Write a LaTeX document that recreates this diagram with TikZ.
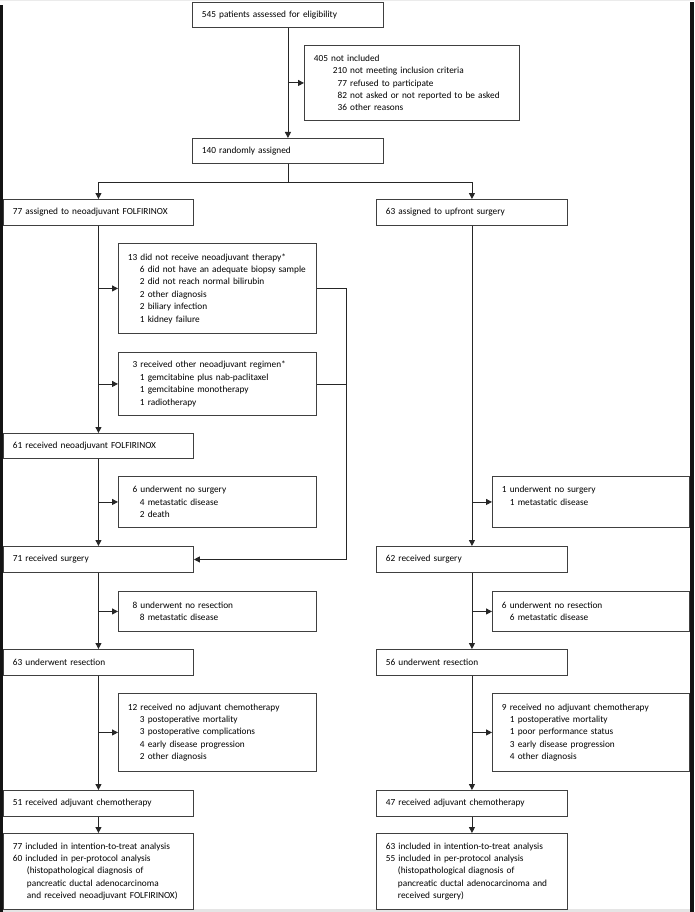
\documentclass[tikz,border=0pt]{standalone}
\usepackage{fontspec}
\setmainfont{Carlito}
\usetikzlibrary{arrows.meta,calc}
\newcommand\fs{\fontsize{9.3}{12.4}\selectfont}
\newcommand\ii[1]{\hspace*{#1pt}}
\begin{document}
\begin{tikzpicture}[x=1pt,y=-1pt,
  box/.style={draw=black!75, line width=0.9pt, anchor=north west, inner xsep=9.5pt, inner ysep=0pt, align=left, font=\fs},
  w190/.style={minimum width=190pt, text width=171pt},
  w198/.style={minimum width=198pt, text width=179pt},
  w215/.style={minimum width=215pt, text width=196pt},
  ln/.style={draw=black!85, line width=0.9pt},
  arr/.style={ln, -{Triangle[length=6pt,width=6pt]}}]
\useasboundingbox (0,0) rectangle (694,912);
\fill[white] (0,0) rectangle (694,912);
\fill[black!8] (0,0) rectangle (694,1);
\fill[black!10] (0,909) rectangle (694,912);
\fill[black!92] (0,5) rectangle (2.5,912);
\fill[black!92] (690,2) rectangle (694,912);

% top
\node[box, minimum width=191pt, text width=172pt, minimum height=25pt] (b545) at (192,2) {545 patients assessed for eligibility};
\node[box, w215, minimum height=75pt] (b405) at (304,45) {405 not included\\
\ii{19}210 not meeting inclusion criteria\\
\ii{19}\hphantom{0}77 refused to participate\\
\ii{19}\hphantom{0}82 not asked or not reported to be asked\\
\ii{19}\hphantom{0}36 other reasons};
\node[box, minimum width=191pt, text width=172pt, minimum height=25pt] (b140) at (192,138) {140 randomly assigned};

% left column
\node[box, w190, minimum height=26pt] (L77) at (3,199) {77 assigned to neoadjuvant FOLFIRINOX};
\node[box, w198, minimum height=90pt] (L13) at (118,243) {13 did not receive neoadjuvant therapy*\\
\ii{12}6 did not have an adequate biopsy sample\\
\ii{12}2 did not reach normal bilirubin\\
\ii{12}2 other diagnosis\\
\ii{12}2 biliary infection\\
\ii{12}1 kidney failure};
\node[box, w198, minimum height=63pt] (L3) at (118,352) {\hphantom{1}3 received other neoadjuvant regimen*\\
\ii{12}1 gemcitabine plus nab-paclitaxel\\
\ii{12}1 gemcitabine monotherapy\\
\ii{12}1 radiotherapy};
\node[box, w190, minimum height=25pt] (L61) at (3,433) {61 received neoadjuvant FOLFIRINOX};
\node[box, w198, minimum height=51pt] (L6) at (118,476) {\hphantom{1}6 underwent no surgery\\
\ii{12}4 metastatic disease\\
\ii{12}2 death};
\node[box, w190, minimum height=26pt] (L71) at (3,546) {71 received surgery};
\node[box, w198, minimum height=40pt] (L8) at (118,591) {\hphantom{1}8 underwent no resection\\
\ii{12}8 metastatic disease};
\node[box, w190, minimum height=26pt] (L63) at (3,649) {63 underwent resection};
\node[box, w198, minimum height=78pt] (L12) at (118,693) {12 received no adjuvant chemotherapy\\
\ii{12}3 postoperative mortality\\
\ii{12}3 postoperative complications\\
\ii{12}4 early disease progression\\
\ii{12}2 other diagnosis};
\node[box, w190, minimum height=26pt] (L51) at (3,790) {51 received adjuvant chemotherapy};
\node[box, w190, minimum height=76pt] (Lend) at (3,833) {77 included in intention-to-treat analysis\\
60 included in per-protocol analysis\\
\ii{14}(histopathological diagnosis of\\
\ii{14}pancreatic ductal adenocarcinoma\\
\ii{14}and received neoadjuvant FOLFIRINOX)};

% right column
\node[box, minimum width=191pt, text width=172pt, minimum height=26pt] (R63) at (376,199) {63 assigned to upfront surgery};
\node[box, minimum width=197pt, text width=178pt, minimum height=51pt] (R1) at (492,476) {1 underwent no surgery\\
\ii{8}1 metastatic disease\\ \mbox{}};
\node[box, minimum width=191pt, text width=172pt, minimum height=26pt] (R62) at (376,546) {62 received surgery};
\node[box, minimum width=197pt, text width=178pt, minimum height=40pt] (R6) at (492,591) {6 underwent no resection\\
\ii{8}6 metastatic disease};
\node[box, minimum width=191pt, text width=172pt, minimum height=26pt] (R56) at (376,649) {56 underwent resection};
\node[box, minimum width=197pt, text width=178pt, minimum height=78pt] (R9) at (492,693) {9 received no adjuvant chemotherapy\\
\ii{8}1 postoperative mortality\\
\ii{8}1 poor performance status\\
\ii{8}3 early disease progression\\
\ii{8}4 other diagnosis};
\node[box, minimum width=191pt, text width=172pt, minimum height=26pt] (R47) at (376,790) {47 received adjuvant chemotherapy};
\node[box, minimum width=191pt, text width=172pt, minimum height=76pt] (Rend) at (376,833) {63 included in intention-to-treat analysis\\
55 included in per-protocol analysis\\
\ii{12}(histopathological diagnosis of\\
\ii{12}pancreatic ductal adenocarcinoma and\\
\ii{12}received surgery)};

% connectors top
\draw[arr] (b545.south) -- (b140.north);
\draw[arr] (b545.south |- b405.west) -- (b405.west);
\coordinate (split) at ($(b140.south)+(0,19)$);
\draw[ln] (b140.south) -- (split);
\draw[arr] (split) -| (L77.north);
\draw[arr] (split) -| (R63.north);

% left trunk
\draw[arr] (L77.south) -- (L61.north);
\draw[arr] (L77.south |- L13.west) -- (L13.west);
\draw[arr] (L77.south |- L3.west) -- (L3.west);
\coordinate (mg) at (346,0);
\draw[ln] (L13.east) -- (mg |- L13.east);
\draw[ln] (L3.east) -- (mg |- L3.east);
\draw[arr] (mg |- L13.east) -- (mg |- L71.east) -- (L71.east);
\draw[arr] (L61.south) -- (L71.north);
\draw[arr] (L61.south |- L6.west) -- (L6.west);
\draw[arr] (L71.south) -- (L63.north);
\draw[arr] (L71.south |- L8.west) -- (L8.west);
\draw[arr] (L63.south) -- (L51.north);
\draw[arr] (L63.south |- L12.west) -- (L12.west);
\draw[arr] (L51.south) -- (Lend.north);

% right trunk
\draw[arr] (R63.south) -- (R62.north);
\draw[arr] (R63.south |- R1.west) -- (R1.west);
\draw[arr] (R62.south) -- (R56.north);
\draw[arr] (R62.south |- R6.west) -- (R6.west);
\draw[arr] (R56.south) -- (R47.north);
\draw[arr] (R56.south |- R9.west) -- (R9.west);
\draw[arr] (R47.south) -- (Rend.north);
\end{tikzpicture}
\end{document}
